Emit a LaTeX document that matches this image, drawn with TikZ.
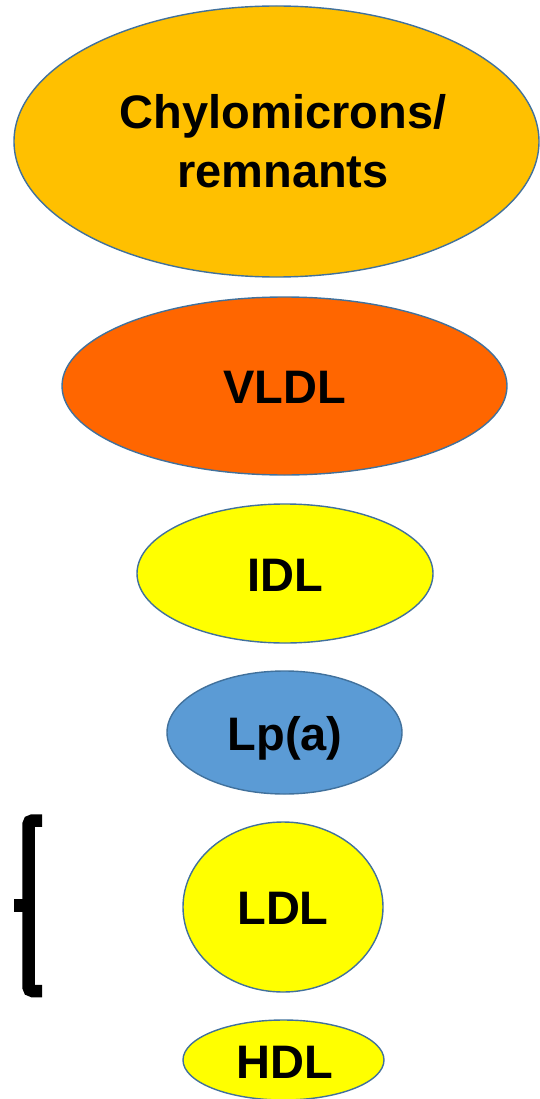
\documentclass[tikz,border=0pt]{standalone}
\usepackage{fontspec}
\setmainfont{Liberation Sans}
\usetikzlibrary{shapes.geometric}
\definecolor{outl}{HTML}{41719C}
\definecolor{chyl}{HTML}{FFC000}
\definecolor{vldlc}{HTML}{FF6600}
\definecolor{yel}{HTML}{FFFF00}
\definecolor{lpac}{HTML}{5B9BD5}
\tikzset{
  ell/.style={ellipse, draw=outl, line width=1.4pt, inner sep=0pt},
  lbl/.style={font=\fontsize{47}{58}\selectfont\bfseries, inner sep=0pt, text height=33.6pt, text depth=0pt},
  brk/.style={line width=12.5pt, draw=black}
}
\begin{document}
\begin{tikzpicture}[x=1pt,y=-1pt]
\useasboundingbox (0,0) rectangle (539,1099);
\node[ell, fill=chyl, minimum width=525pt, minimum height=271pt] (chy) at (276.5,141.5) {};
\node[font=\fontsize{47}{59}\selectfont\bfseries, align=center, inner sep=0pt] (chyt) at (283,141) {Chylomicrons/\\remnants};
\node[ell, fill=vldlc, minimum width=445pt, minimum height=178pt] (vldl) at (284.5,386) {};
\node[lbl] (vldlt) at (285,387) {VLDL};
\node[ell, fill=yel, minimum width=296pt, minimum height=139pt] (idl) at (285,573.5) {};
\node[lbl] (idlt) at (285,575) {IDL};
\node[ell, fill=lpac, minimum width=235pt, minimum height=123pt] (lpa) at (284.5,732.5) {};
\node[lbl] (lpat) at (285,734) {Lp(a)};
\node[ell, fill=yel, minimum width=200pt, minimum height=170pt] (ldl) at (283,907) {};
\node[lbl] (ldlt) at (283,908) {LDL};
\node[ell, fill=yel, minimum width=201pt, minimum height=80pt] (hdl) at (283.5,1060) {};
\node[lbl] (hdlt) at (284.5,1061.5) {HDL};
\coordinate (bt) at (42,820.5);
\coordinate (bb) at (42,991);
\coordinate (bm) at (14,905.5);
\coordinate (bc) at (28.5,905.5);
\draw[brk, rounded corners=4pt] (bt) -- (28.5,820.5) -- (28.5,991) -- (bb);
\draw[brk] (bm) -- (bc);
\end{tikzpicture}
\end{document}
